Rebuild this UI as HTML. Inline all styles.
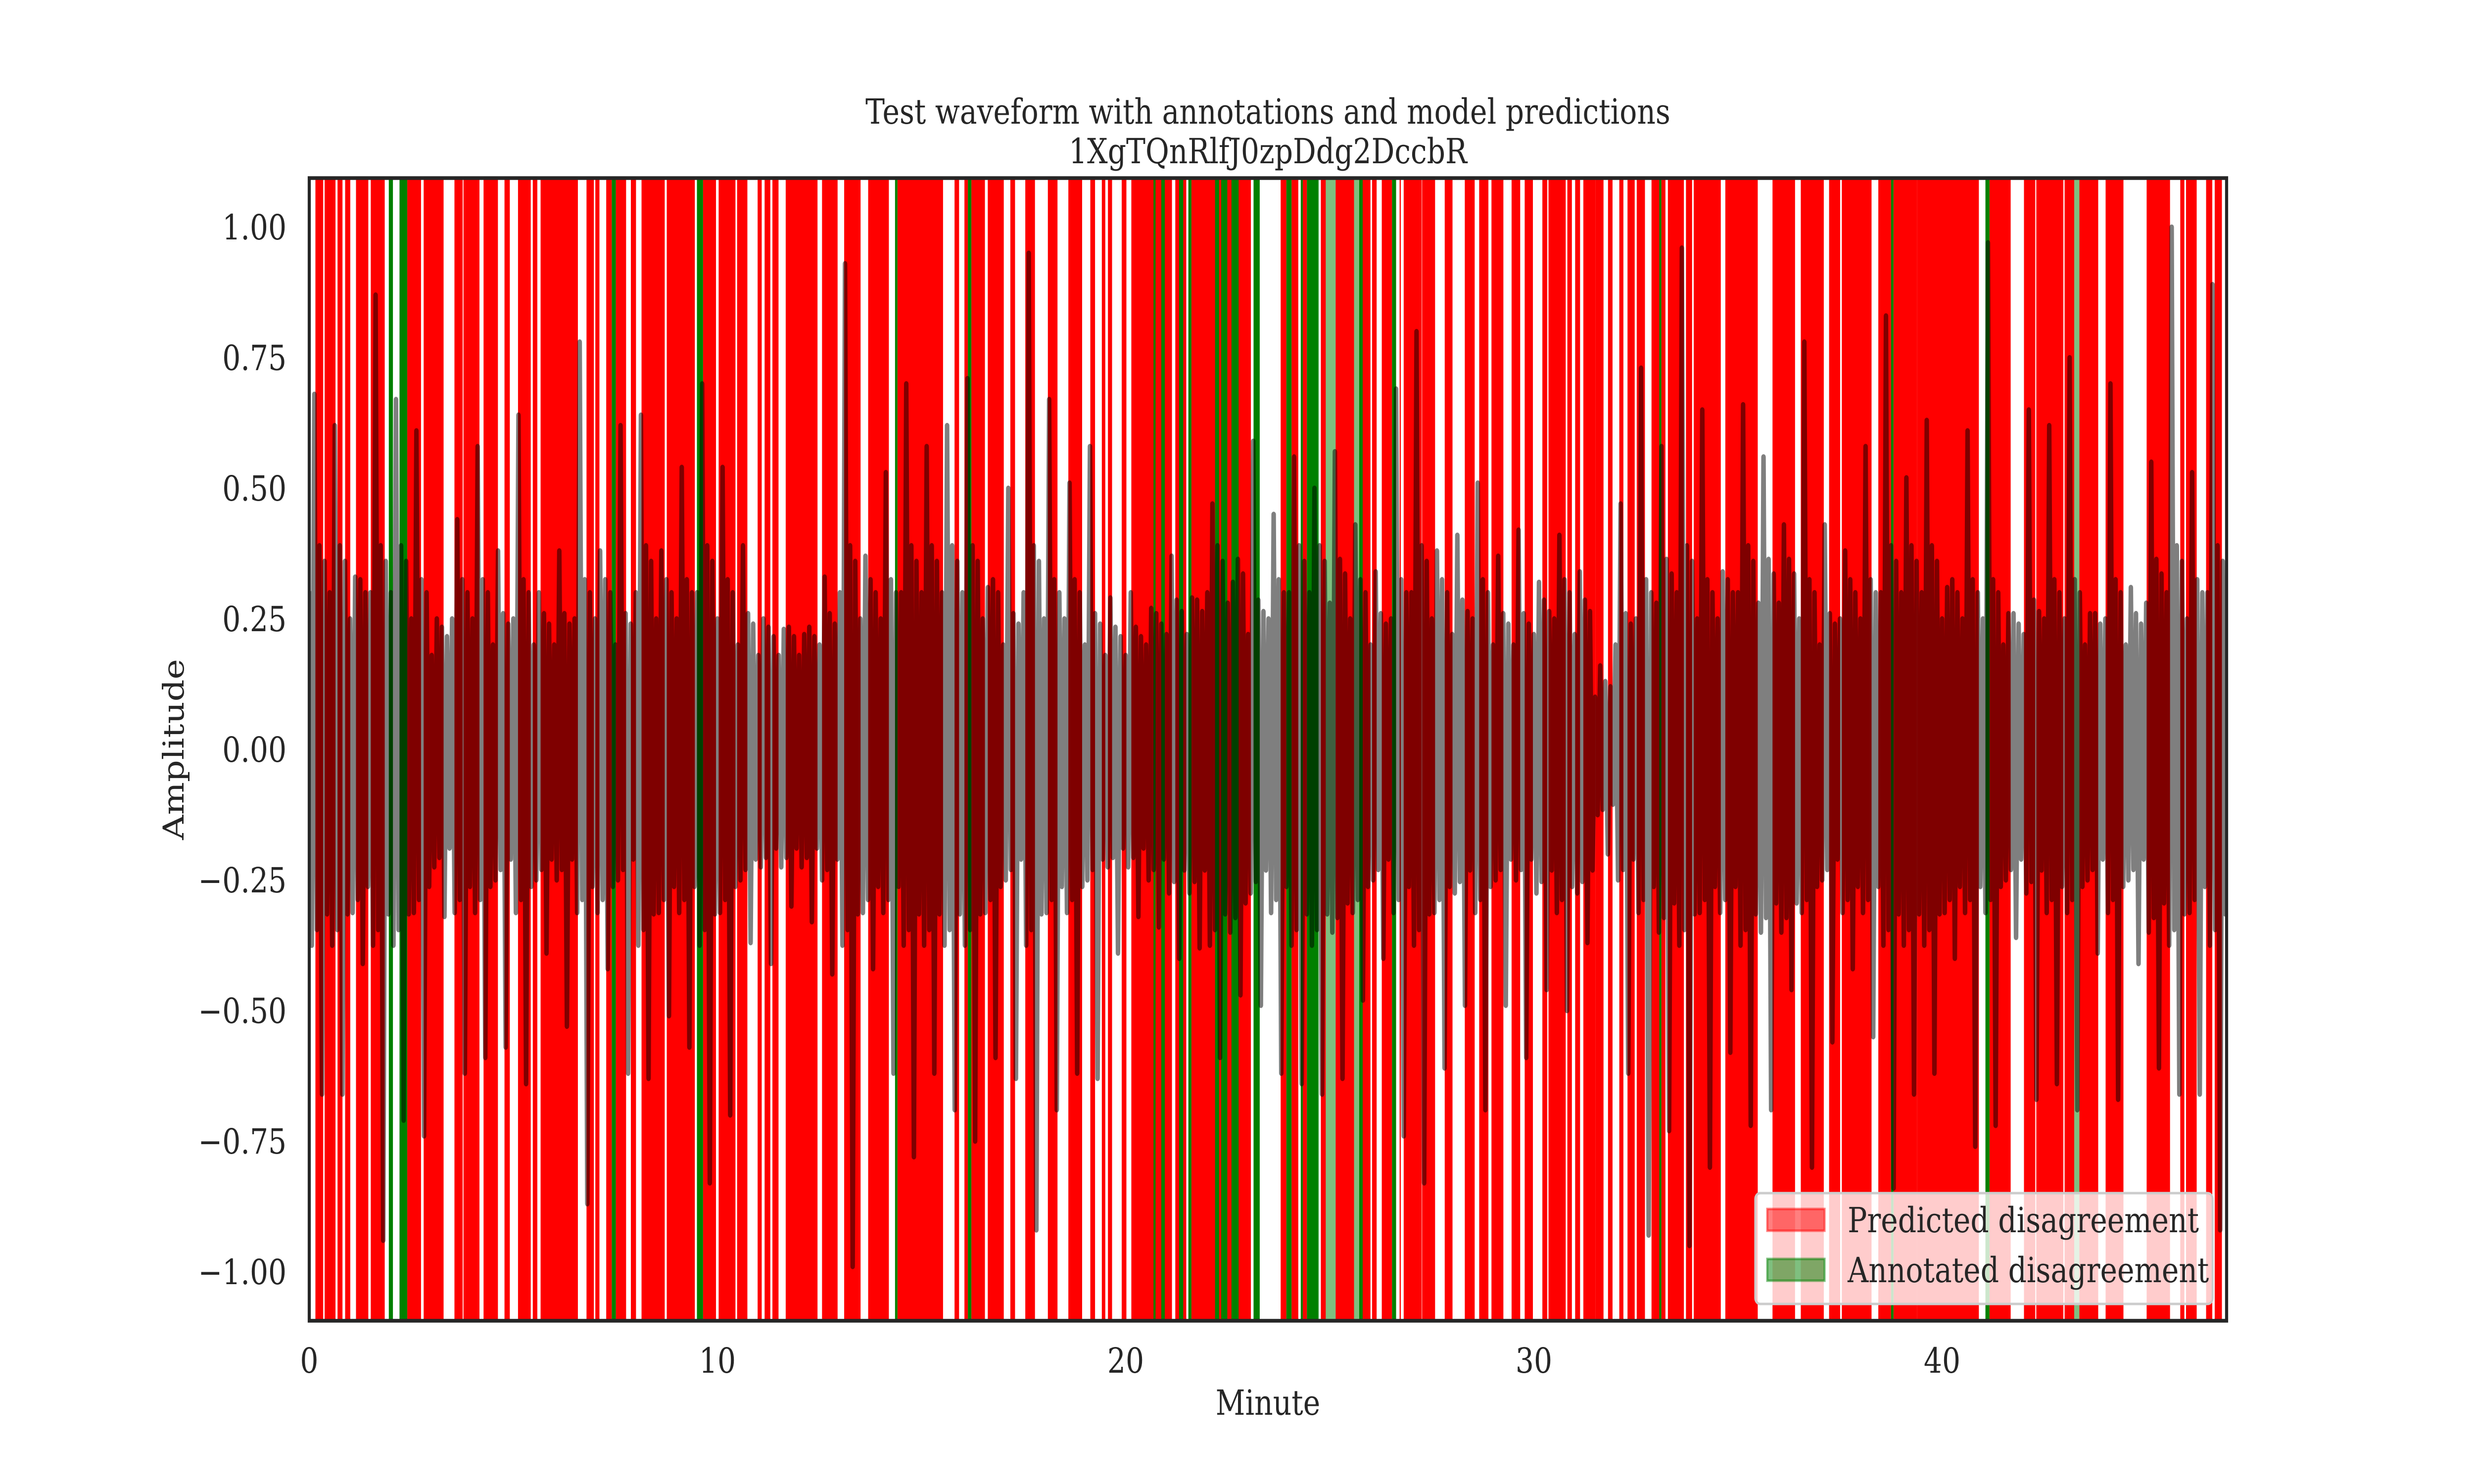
<!DOCTYPE html>
<html><head><meta charset="utf-8"><style>
html,body{margin:0;padding:0;background:#fff;overflow:hidden;width:100%;height:100%;}
svg{display:block;font-family:"DejaVu Serif","Liberation Serif",serif;width:100vw;height:100vh;}
</style></head><body>
<svg id="chart" viewBox="0 0 6000 3000" preserveAspectRatio="none" xmlns="http://www.w3.org/2000/svg">
<rect width="6000" height="3000" fill="#fff"/>
<g id="spans"></g>
<g id="wave"></g>
<rect x="750" y="360" width="4650" height="2310" fill="none" stroke="#262626" stroke-width="7.5"/>
<g id="yticks" font-size="70" fill="#262626" text-anchor="end"></g>
<g id="xticks" font-size="70" fill="#262626" text-anchor="middle"></g>
<text x="3075" y="250" font-size="70" fill="#262626" text-anchor="middle">Test waveform with annotations and model predictions</text>
<text x="3075" y="330" font-size="70" fill="#262626" text-anchor="middle">1XgTQnRlfJ0zpDdg2DccbR</text>
<text x="3075" y="2860" font-size="70" fill="#262626" text-anchor="middle">Minute</text>
<text x="0" y="0" font-size="70" fill="#262626" text-anchor="middle" transform="translate(445,1515) rotate(-90)">Amplitude</text>
<g>
<rect x="4257" y="2412" width="1109" height="224" rx="12" fill="#fff" fill-opacity="0.8" stroke="#cccccc" stroke-width="5"/>
<rect x="4286" y="2444" width="139" height="44" fill="#ff0000" fill-opacity="0.5" stroke="#ff0000" stroke-opacity="0.5" stroke-width="5"/>
<text x="4481" y="2491" font-size="70" fill="#262626">Predicted disagreement</text>
<rect x="4286" y="2545" width="139" height="44" fill="#008000" fill-opacity="0.5" stroke="#008000" stroke-opacity="0.5" stroke-width="5"/>
<text x="4481" y="2592" font-size="70" fill="#262626">Annotated disagreement</text>
</g>
</svg>
<script>
const NS="http://www.w3.org/2000/svg";
const xMin=0, xMax=46.97, yMin=-1.094, yMax=1.094;
const redStarts=[0.151,0.377,0.693,0.879,1.145,1.507,2.401,2.803,3.557,3.778,4.270,4.783,5.114,5.476,5.667,6.792,7.008,7.275,7.511,
7.879,8.140,8.758,9.647,10.029,10.481,10.984,11.155,11.346,11.672,12.562,13.104,13.692,14.410,
15.808,16.050,16.220,16.622,17.175,17.541,18.094,18.596,19.134,19.416,19.566,19.903,20.139,21.216,21.611,
23.797,24.063,24.339,24.781,25.143,25.806,26.037,26.274,26.711,26.811,27.263,27.816,28.308,28.660,28.961,29.454,29.775,30.208,30.358,30.820,31.011,31.212,
31.515,31.816,32.093,32.294,32.520,32.882,33.123,33.283,33.726,33.916,34.690,35.846,36.539,37.232,37.544,38.438,38.810,
39.394,41.162,42.006,42.308,43.001,43.363,44.006,45.011,45.835,45.976,46.468,46.679];
const redEnds=[0.342,0.643,0.814,1.005,1.447,1.849,2.738,3.291,3.758,4.170,4.622,4.913,5.426,5.587,6.581,6.973,7.109,7.410,7.762,
8.005,8.708,9.446,9.964,10.441,10.733,11.084,11.295,11.496,12.451,12.943,13.506,14.199,15.526,
15.919,16.135,16.552,17.014,17.290,17.778,18.330,18.933,19.250,19.501,19.667,20.018,21.134,21.485,23.068,
23.937,24.229,24.440,24.902,25.595,25.997,26.148,26.525,26.741,27.253,27.580,28.007,28.550,28.886,29.253,29.665,29.976,30.328,30.780,30.931,31.132,31.514,
31.706,31.927,32.193,32.470,32.721,33.072,33.223,33.675,33.876,34.579,35.484,36.398,37.102,37.503,38.272,38.750,39.393,
40.901,41.680,42.283,42.971,43.237,43.825,44.443,45.584,45.935,46.237,46.619,46.855];
const greenStarts=[1.949,2.211,7.410,9.497,14.350,16.135,20.682,20.872,21.309,21.536,22.189,22.340,22.591,23.133,23.937,24.289,24.440,25.721,26.525,33.072,38.750,41.062];
const greenEnds=[2.050,2.401,7.511,9.647,14.410,16.220,20.732,20.958,21.410,21.611,22.289,22.490,22.767,23.284,24.063,24.339,24.716,25.806,26.625,33.123,38.810,41.162];
const oliveStarts=[24.716,24.902,25.595,43.237];
const oliveEnds=[24.741,25.143,25.721,43.363];
const binMinutes=0.5;
const peakUp=[0.68,0.62,0.33,0.87,0.67,0.61,0.25,0.44,0.58,0.38,0.64,0.30,0.38,0.78,0.38,0.62,
0.64,0.38,0.54,0.70,0.54,0.39,0.25,0.23,0.22,0.33,0.93,0.37,0.53,0.70,0.58,0.62,
0.71,0.31,0.50,0.95,0.67,0.51,0.58,0.29,0.30,0.27,0.37,0.29,0.47,0.32,0.59,0.45,
0.56,0.50,0.57,0.43,0.34,0.69,0.80,0.38,0.41,0.51,0.37,0.42,0.32,0.41,0.34,0.16,
0.47,0.73,0.58,0.96,0.65,0.34,0.66,0.56,0.43,0.78,0.43,0.38,0.58,0.83,0.52,
0.63,0.31,0.61,0.97,0.26,0.65,0.62,0.75,0.26,0.70,0.31,0.55,1.0,0.53,0.89];
const peakDown=[0.66,0.66,0.41,0.94,0.71,0.74,0.32,0.62,0.59,0.57,0.64,0.39,0.53,0.87,0.42,0.62,
0.63,0.51,0.57,0.83,0.70,0.37,0.41,0.30,0.33,0.43,0.99,0.42,0.62,0.78,0.62,0.69,
0.75,0.59,0.63,0.92,0.69,0.62,0.63,0.39,0.32,0.34,0.40,0.38,0.59,0.47,0.49,0.62,
0.64,0.66,0.63,0.48,0.40,0.74,0.83,0.61,0.49,0.69,0.49,0.59,0.46,0.50,0.37,0.20,
0.62,0.93,0.73,0.95,0.80,0.58,0.72,0.69,0.46,0.80,0.56,0.42,0.55,0.84,0.66,
0.62,0.40,0.76,0.72,0.36,0.67,0.64,0.69,0.39,0.67,0.41,0.61,0.66,0.66,0.92];
const coreAmp=[0.3,0.3,0.25,0.3,0.3,0.25,0.18,0.25,0.25,0.2,0.25,0.2,0.2,0.25,0.25,0.2,
0.3,0.25,0.25,0.3,0.25,0.2,0.18,0.18,0.18,0.2,0.3,0.25,0.25,0.3,0.3,0.3,
0.3,0.25,0.2,0.3,0.25,0.25,0.2,0.18,0.18,0.2,0.22,0.22,0.3,0.28,0.22,0.25,
0.3,0.3,0.28,0.25,0.2,0.25,0.3,0.25,0.22,0.25,0.2,0.2,0.22,0.25,0.22,0.1,
0.2,0.25,0.28,0.3,0.25,0.25,0.3,0.28,0.28,0.25,0.2,0.25,0.25,0.3,0.3,
0.3,0.25,0.25,0.25,0.2,0.22,0.25,0.25,0.2,0.25,0.2,0.28,0.3,0.25,0.3];
const yTickValues=[1.0,0.75,0.5,0.25,0,-0.25,-0.5,-0.75,-1.0];
const yTickLabels=["1.00","0.75","0.50","0.25","0.00","\u22120.25","\u22120.50","\u22120.75","\u22121.00"];
const xTickValues=[0,10,20,30,40];
const xTickLabels=["0","10","20","30","40"];

const PL=750, PR=5400, PT=360, PB=2670;
function xs(v){return PL+(v-xMin)/(xMax-xMin)*(PR-PL);}
function ys(v){return PB-(v-yMin)/(yMax-yMin)*(PB-PT);}

const spans=document.getElementById('spans');
function addSpans(starts,ends,color,op,name){
  for(let i=0;i<starts.length;i++){
    const r=document.createElementNS(NS,'rect');
    const a=xs(Math.max(starts[i],xMin)), b=xs(Math.min(ends[i],xMax));
    r.setAttribute('x',a); r.setAttribute('y',PT);
    r.setAttribute('width',Math.max(b-a,1)); r.setAttribute('height',PB-PT);
    r.setAttribute('fill',color); r.setAttribute('fill-opacity',op);
    
    
    spans.appendChild(r);
  }
}
addSpans(redStarts,redEnds,'#ff0000',1,'predicted-disagreement-span');
addSpans(greenStarts,greenEnds,'#008000',1,'annotated-disagreement-span');
addSpans(oliveStarts,oliveEnds,'#008000',0.5,'annotated-disagreement-span');

const weights=[1.0,1.25,0,1.15,1.3,0,1.2,1.05];
let d='';
const steps=weights.length;
for(let i=0;i<peakUp.length;i++){
  for(let k=0;k<steps;k++){
    const t=i*binMinutes+k*binMinutes/steps;
    if(t>xMax) break;
    let v;
    if(k===2) v=peakUp[i];
    else if(k===5) v=-peakDown[i];
    else v=(k%2===0?1:-1)*coreAmp[i]*weights[k];
    d+=(d===''?'M':'L')+xs(t).toFixed(1)+','+ys(v).toFixed(1);
  }
}
const wp=document.createElementNS(NS,'path');
wp.setAttribute('d',d);
wp.setAttribute('fill','none');
wp.setAttribute('stroke','#000');
wp.setAttribute('stroke-opacity','0.5');
wp.setAttribute('stroke-width','11');
wp.setAttribute('stroke-linejoin','round');
wp.setAttribute('stroke-linecap','round');


const clip=document.createElementNS(NS,'clipPath');
clip.setAttribute('id','pc');
const cr=document.createElementNS(NS,'rect');
cr.setAttribute('x',PL);cr.setAttribute('y',PT);cr.setAttribute('width',PR-PL);cr.setAttribute('height',PB-PT);
clip.appendChild(cr);
document.getElementById('chart').appendChild(clip);
const wg=document.getElementById('wave');
wg.setAttribute('clip-path','url(#pc)');
wg.appendChild(wp);

const yt=document.getElementById('yticks');
for(let i=0;i<yTickValues.length;i++){
  const t=document.createElementNS(NS,'text');
  t.setAttribute('x',695); t.setAttribute('y',ys(yTickValues[i])+25);
  t.textContent=yTickLabels[i];
  
  
  yt.appendChild(t);
}
const xt=document.getElementById('xticks');
for(let i=0;i<xTickValues.length;i++){
  const t=document.createElementNS(NS,'text');
  t.setAttribute('x',xs(xTickValues[i])); t.setAttribute('y',2775);
  t.textContent=xTickLabels[i];
  
  
  xt.appendChild(t);
}
</script>
</body></html>
